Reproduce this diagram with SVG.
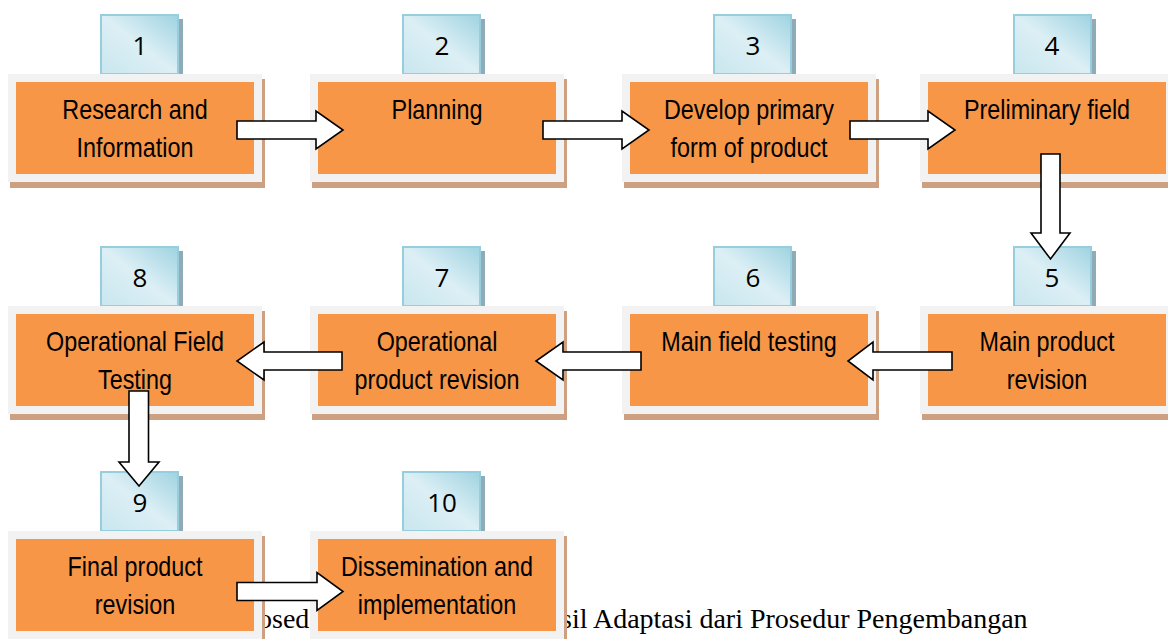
<svg xmlns="http://www.w3.org/2000/svg" width="1168" height="639" viewBox="0 0 1168 639">
<defs>
<linearGradient id="tabg" x1="1" y1="0" x2="0" y2="1">
<stop offset="0" stop-color="#9FD3E1"/>
<stop offset="0.5" stop-color="#DCEFF5"/>
<stop offset="1" stop-color="#C9E6EE"/>
</linearGradient>
<style>
.cap{font-family:"Liberation Serif","Times New Roman",serif;font-size:28px;fill:#000}
.sh{fill:#CCA080}
.fr{fill:#F2F2F2}
.or{fill:#F79646}
.tabsh{fill:#8EABB7}
.tab{fill:url(#tabg);stroke:#96CEDD;stroke-width:2}
.num{font-family:"Open Sans","Noto Sans",sans-serif;font-size:26px;fill:#000;text-anchor:middle}
.lbl{font-family:"Liberation Sans",Arial,sans-serif;font-size:28.5px;fill:#000;text-anchor:middle}
.arr{fill:#fff;stroke:#000;stroke-width:1.6;stroke-linejoin:miter}
</style>
</defs>
<rect width="1168" height="639" fill="#fff"/>
<g id="caption">
<text class="cap" x="258" y="628">osed</text>
<text class="cap" x="561" y="628">sil Adaptasi dari Prosedur Pengembangan</text>
</g>
<g id="n1">
<rect class="tabsh" x="104" y="19" width="79" height="55"/><rect class="tab" x="101" y="15" width="77" height="59"/>
<text class="num" x="140" y="55">1</text>
<rect class="sh" x="10" y="79" width="255" height="109"/><rect class="fr" x="8" y="74" width="254" height="108"/><rect class="or" x="16" y="82" width="238" height="92"/>
<text class="lbl" transform="translate(135,119) scale(0.82,1)">Research and</text>
<text class="lbl" transform="translate(135,157) scale(0.82,1)">Information</text>
</g>
<g id="n2">
<rect class="tabsh" x="406" y="19" width="79" height="55"/><rect class="tab" x="403" y="15" width="77" height="59"/>
<text class="num" x="442" y="55">2</text>
<rect class="sh" x="312" y="79" width="255" height="109"/><rect class="fr" x="310" y="74" width="254" height="108"/><rect class="or" x="318" y="82" width="238" height="92"/>
<text class="lbl" transform="translate(437,119) scale(0.82,1)">Planning</text>
</g>
<g id="n3">
<rect class="tabsh" x="717" y="19" width="79" height="55"/><rect class="tab" x="714" y="15" width="77" height="59"/>
<text class="num" x="753" y="55">3</text>
<rect class="sh" x="624" y="79" width="255" height="109"/><rect class="fr" x="622" y="74" width="254" height="108"/><rect class="or" x="630" y="82" width="238" height="92"/>
<text class="lbl" transform="translate(749,119) scale(0.82,1)">Develop primary</text>
<text class="lbl" transform="translate(749,157) scale(0.82,1)">form of product</text>
</g>
<g id="n4">
<rect class="tabsh" x="1017" y="19" width="79" height="55"/><rect class="tab" x="1014" y="15" width="77" height="59"/>
<text class="num" x="1052" y="55">4</text>
<rect class="sh" x="922" y="79" width="255" height="109"/><rect class="fr" x="920" y="74" width="254" height="108"/><rect class="or" x="928" y="82" width="238" height="92"/>
<text class="lbl" transform="translate(1047,119) scale(0.82,1)">Preliminary field</text>
</g>
<g id="n5">
<rect class="tabsh" x="1017" y="251" width="79" height="55"/><rect class="tab" x="1014" y="247" width="77" height="59"/>
<text class="num" x="1052" y="287">5</text>
<rect class="sh" x="922" y="311" width="255" height="109"/><rect class="fr" x="920" y="306" width="254" height="108"/><rect class="or" x="928" y="314" width="238" height="92"/>
<text class="lbl" transform="translate(1047,351) scale(0.82,1)">Main product</text>
<text class="lbl" transform="translate(1047,389) scale(0.82,1)">revision</text>
</g>
<g id="n6">
<rect class="tabsh" x="717" y="251" width="79" height="55"/><rect class="tab" x="714" y="247" width="77" height="59"/>
<text class="num" x="753" y="287">6</text>
<rect class="sh" x="624" y="311" width="255" height="109"/><rect class="fr" x="622" y="306" width="254" height="108"/><rect class="or" x="630" y="314" width="238" height="92"/>
<text class="lbl" transform="translate(749,351) scale(0.82,1)">Main field testing</text>
</g>
<g id="n7">
<rect class="tabsh" x="406" y="251" width="79" height="55"/><rect class="tab" x="403" y="247" width="77" height="59"/>
<text class="num" x="442" y="287">7</text>
<rect class="sh" x="312" y="311" width="255" height="109"/><rect class="fr" x="310" y="306" width="254" height="108"/><rect class="or" x="318" y="314" width="238" height="92"/>
<text class="lbl" transform="translate(437,351) scale(0.82,1)">Operational</text>
<text class="lbl" transform="translate(437,389) scale(0.82,1)">product revision</text>
</g>
<g id="n8">
<rect class="tabsh" x="104" y="251" width="79" height="55"/><rect class="tab" x="101" y="247" width="77" height="59"/>
<text class="num" x="140" y="287">8</text>
<rect class="sh" x="10" y="311" width="255" height="109"/><rect class="fr" x="8" y="306" width="254" height="108"/><rect class="or" x="16" y="314" width="238" height="92"/>
<text class="lbl" transform="translate(135,351) scale(0.82,1)">Operational Field</text>
<text class="lbl" transform="translate(135,389) scale(0.82,1)">Testing</text>
</g>
<g id="n9">
<rect class="tabsh" x="104" y="476" width="79" height="55"/><rect class="tab" x="101" y="472" width="77" height="59"/>
<text class="num" x="140" y="512">9</text>
<rect class="sh" x="10" y="536" width="255" height="109"/><rect class="fr" x="8" y="531" width="254" height="108"/><rect class="or" x="16" y="539" width="238" height="92"/>
<text class="lbl" transform="translate(135,576) scale(0.82,1)">Final product</text>
<text class="lbl" transform="translate(135,614) scale(0.82,1)">revision</text>
</g>
<g id="n10">
<rect class="tabsh" x="406" y="476" width="79" height="55"/><rect class="tab" x="403" y="472" width="77" height="59"/>
<text class="num" x="442" y="512">10</text>
<rect class="sh" x="312" y="536" width="255" height="109"/><rect class="fr" x="310" y="531" width="254" height="108"/><rect class="or" x="318" y="539" width="238" height="92"/>
<text class="lbl" transform="translate(437,576) scale(0.82,1)">Dissemination and</text>
<text class="lbl" transform="translate(437,614) scale(0.82,1)">implementation</text>
</g>
<g id="connectors">
<polygon class="arr" points="237,121 316,121 316,111 343,130 316,149 316,139 237,139"/>
<polygon class="arr" points="543,121 622,121 622,111 649,130 622,149 622,139 543,139"/>
<polygon class="arr" points="850,121 928,121 928,111 955,130 928,149 928,139 850,139"/>
<polygon class="arr" points="1041,154 1060,154 1060,233 1070,233 1050.5,259 1031,233 1041,233"/>
<polygon class="arr" points="952,352 873,352 873,342 848,361 873,380 873,370 952,370"/>
<polygon class="arr" points="641,352 563,352 563,342 536,361 563,380 563,370 641,370"/>
<polygon class="arr" points="342,352 264,352 264,342 237,361 264,380 264,370 342,370"/>
<polygon class="arr" points="129,391 148.5,391 148.5,462 159,462 139,486 119,462 129,462"/>
<polygon class="arr" points="237,582.5 317,582.5 317,572.5 343,591.5 317,610.5 317,600.5 237,600.5"/>
</g>
</svg>
